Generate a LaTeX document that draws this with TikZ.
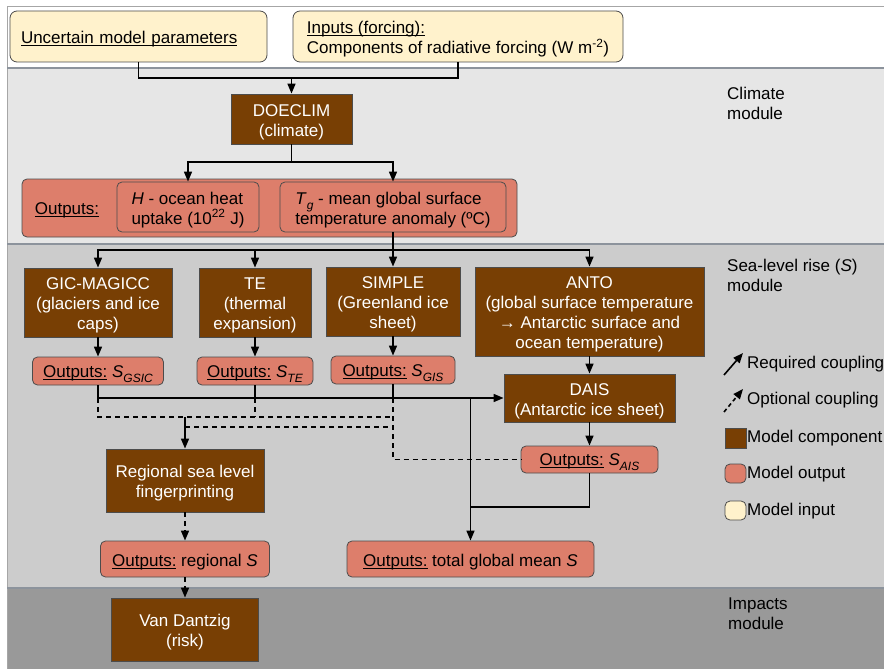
\documentclass[tikz,border=0pt]{standalone}
\usepackage{fontspec}
\setmainfont{Liberation Sans}
\usetikzlibrary{arrows.meta}

\definecolor{compbrown}{HTML}{783F04}
\definecolor{outsalmon}{HTML}{DD7E6B}
\definecolor{incream}{HTML}{FFF2CC}
\definecolor{climgray}{HTML}{E6E6E6}
\definecolor{slrgray}{HTML}{CCCCCC}
\definecolor{impgray}{HTML}{999999}
\definecolor{sepgray}{HTML}{8C939C}

\newsavebox{\undlbox}
\newcommand{\undl}[1]{\sbox{\undlbox}{#1}\rlap{\rule[-2.5pt]{\wd\undlbox}{1pt}}\usebox{\undlbox}}
\newcommand{\lowsub}[1]{\raisebox{-0.3em}{\fontsize{12}{12}\selectfont\textit{#1}}}
\newcommand{\tp}{\rule{0pt}{18pt}}

\tikzset{
  comp/.style={draw=black!70, line width=0.8pt, fill=compbrown, text=white, align=center, inner sep=0pt},
  outbox/.style={draw=black!70, line width=0.8pt, fill=outsalmon, rounded corners=5pt, inner sep=0pt, align=left},
  inbox/.style={draw=black!70, line width=0.8pt, fill=incream, rounded corners=7pt, inner sep=0pt, align=left},
  wire/.style={line width=1.6pt},
  req/.style={wire, -{Triangle[length=10pt,width=8pt]}},
  opt/.style={wire, dash pattern=on 5pt off 4pt},
  optarrow/.style={opt, -{Triangle[length=10pt,width=8pt]}},
}

\begin{document}
\begin{tikzpicture}[x=1pt, y=-1pt, font=\fontsize{17}{20}\selectfont]
        \useasboundingbox (0,0) rectangle (884,669);
        \fill[white] (0,0) rectangle (884,669);

        % Module bands
        \fill[climgray] (7,68) rectangle (884,244);
        \fill[slrgray] (7,244) rectangle (884,588);
        \fill[impgray] (7,588) rectangle (884,669);
        \draw[black!35, line width=1pt] (7,669) -- (7,7) -- (884,7);
        \foreach \y in {68,244,588}{
            \draw[sepgray, line width=1.5pt] (7,\y) -- (884,\y);
        }

        % Band labels
        \node[anchor=north west, inner sep=0pt, align=left] (climlabel) at (727,87) {Climate\\module};
        \node[anchor=north west, inner sep=0pt, align=left] (slrlabel) at (727,259) {Sea-level rise (\textit{S})\\module};
        \node[anchor=north west, inner sep=0pt, align=left] (implabel) at (728,598) {Impacts\\module};

        % Inputs
        \node[inbox, minimum height=51pt, text width=235pt, inner xsep=11pt] (params) at (138.5,36.5) {\tp\undl{Uncertain model parameters}};
        \node[inbox, minimum width=330pt, minimum height=51pt] (forcing) at (458,36.5) {\tp\undl{Inputs (forcing):}\\Components of radiative forcing (W m\textsuperscript{-2})};

        % Climate module
        \node[comp, minimum width=121pt, minimum height=50pt] (doeclim) at (291.5,119) {\tp DOECLIM\\(climate)};
        \node[outbox, minimum width=495pt, minimum height=58pt] (climout) at (269.5,208) {};
        \node[inner sep=0pt] (climlbl) at (67,210) {\undl{Outputs:}};
        \node[outbox, minimum width=142pt, minimum height=50pt] (heat) at (188,207) {\tp\textit{H} - ocean heat\\uptake (10\textsuperscript{22} J)};
        \node[outbox, minimum width=226pt, minimum height=50pt] (temp) at (393,207) {\tp\textit{T}\lowsub{g} - mean global surface\\temperature anomaly (ºC)};

        % Sea-level rise models
        \node[comp, minimum width=148pt, minimum height=69pt] (gic) at (98,302.5) {\tp GIC-MAGICC\\(glaciers and ice\\caps)};
        \node[comp, minimum width=112pt, minimum height=69pt] (te) at (255,302.5) {\tp TE\\(thermal\\expansion)};
        \node[comp, minimum width=134pt, minimum height=69pt] (simple) at (393,301.5) {\tp SIMPLE\\(Greenland ice\\sheet)};
        \node[comp, minimum width=229pt, minimum height=89pt] (anto) at (589.5,311.5) {\tp ANTO\\(global surface temperature\\→ Antarctic surface and\\ocean temperature)};
        \node[comp, minimum width=171pt, minimum height=48pt] (dais) at (589.5,398) {\tp DAIS\\(Antarctic ice sheet)};
        \node[comp, minimum width=158pt, minimum height=63pt] (regional) at (185,480.5) {\tp Regional sea level\\fingerprinting};

        % Sea-level outputs
        \node[outbox, minimum width=131pt, minimum height=28pt] (gsicout) at (98,371) {\tp\undl{Outputs:} \textit{S}\lowsub{GSIC}};
        \node[outbox, minimum width=116pt, minimum height=28pt] (teout) at (255,371) {\tp\undl{Outputs:} \textit{S}\lowsub{TE}};
        \node[outbox, minimum width=124pt, minimum height=28pt] (gisout) at (393,370) {\tp\undl{Outputs:} \textit{S}\lowsub{GIS}};
        \node[outbox, minimum width=137pt, minimum height=27pt] (aisout) at (589.5,459.5) {\tp\undl{Outputs:} \textit{S}\lowsub{AIS}};
        \node[outbox, minimum width=169pt, minimum height=36pt] (regout) at (185,559) {\tp\undl{Outputs:} regional \textit{S}};
        \node[outbox, minimum width=247pt, minimum height=36pt] (totout) at (470.5,559) {\tp\undl{Outputs:} total global mean \textit{S}};

        % Impacts module
        \node[comp, minimum width=147pt, minimum height=63pt] (vandantzig) at (185,629.5) {\tp Van Dantzig\\(risk)};

        % Inputs to DOECLIM
        \coordinate (injoin) at (291.5,78);
        \draw[wire] (params.south) |- (injoin) -| (forcing.south);
        \draw[req] (injoin) -- (doeclim.north);

        % DOECLIM to its outputs
        \coordinate (climsplit) at (291.5,162);
        \draw[wire] (doeclim.south) -- (climsplit);
        \draw[req] (climsplit) -| (heat.north);
        \draw[req] (climsplit) -| (temp.north);

        % Temperature to sea-level models
        \coordinate (slrbus) at (393,250);
        \draw[wire] (temp.south) -- (slrbus);
        \foreach \m in {gic,te,simple,anto}{
            \draw[req] (slrbus) -| (\m.north);
        }

        % Models to outputs
        \foreach \m/\o in {gic/gsicout, te/teout, simple/gisout, anto/dais, dais/aisout}{
            \draw[req] (\m.south) -- (\o.north);
        }

        % Required coupling to DAIS and total
        \coordinate (totjoin) at (470.5,507);
        \draw[req] (gsicout.south) |- (dais.west);
        \draw[wire] (teout.south) -- (teout.south |- dais.west);
        \draw[wire] (gisout.south) -- (gisout.south |- dais.west);
        \draw[req] (totout.north |- dais.west) -- (totout.north);
        \draw[wire] (aisout.south) |- (totjoin);

        % Optional coupling to fingerprinting
        \coordinate (optA) at (0,417);
        \coordinate (optB) at (0,427);
        \draw[opt] (gsicout.south |- dais.west) -- (gsicout.south |- optA) -- (gisout.south |- optA);
        \draw[opt] (teout.south |- dais.west) -- (teout.south |- optA);
        \draw[opt] (gisout.south |- dais.west) |- (aisout.west);
        \draw[opt] (regional.north |- optB) -- (gisout.south |- optB);
        \draw[req] (regional.north |- optA) -- (regional.north);
        \draw[optarrow] (regional.south) -- (regout.north);
        \draw[optarrow] (regout.south) -- (vandantzig.north);

        % Legend
        \coordinate (reqtail) at (724,375);
        \coordinate (reqhead) at (743,353);
        \coordinate (opttail) at (724,412);
        \coordinate (opthead) at (743,389);
        \draw[req] (reqtail) -- (reqhead);
        \draw[optarrow, dash pattern=on 4pt off 3pt] (opttail) -- (opthead);
        \node[comp, minimum width=21pt, minimum height=20pt] (keycomp) at (735.5,438) {};
        \node[outbox, minimum width=21pt, minimum height=19pt] (keyout) at (735.5,473.5) {};
        \node[inbox, minimum width=21pt, minimum height=19pt, rounded corners=5pt] (keyin) at (735.5,510.5) {};
        \node[anchor=west, inner sep=0pt] (reqlbl) at (747,364) {Required coupling};
        \node[anchor=west, inner sep=0pt] (optlbl) at (747,400) {Optional coupling};
        \node[anchor=west, inner sep=0pt] (complbl) at (747,438) {Model component};
        \node[anchor=west, inner sep=0pt] (outlbl) at (747,474) {Model output};
        \node[anchor=west, inner sep=0pt] (inlbl) at (747,511) {Model input};
\end{tikzpicture}
\end{document}
